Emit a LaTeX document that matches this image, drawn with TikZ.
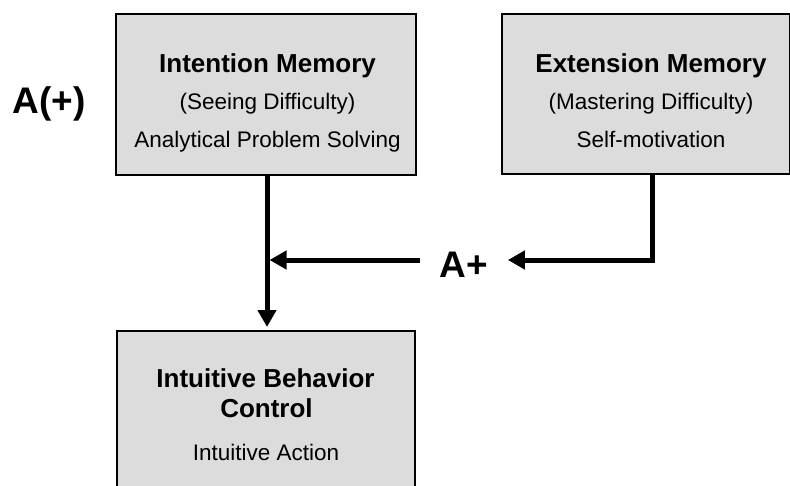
\documentclass[tikz,border=0pt]{standalone}
\usepackage{fontspec}
\setmainfont{Liberation Sans}
\usetikzlibrary{arrows.meta}
\definecolor{boxgray}{HTML}{DCDCDC}
\tikzset{
  box/.style={draw=black, fill=boxgray, line width=1.8pt, anchor=north west, inner sep=0pt},
  ttl/.style={anchor=base, inner sep=0pt, font=\fontsize{26}{30}\selectfont\bfseries},
  sub/.style={anchor=base, inner sep=0pt, font=\fontsize{22.5}{27}\selectfont},
  big/.style={anchor=base, inner ysep=0pt, font=\fontsize{37}{44}\selectfont\bfseries},
  conn/.style={line width=5pt, draw=black},
  tip/.style={-{Triangle[width=18pt,length=17pt]}},
}
\begin{document}
\begin{tikzpicture}[x=1pt,y=-1pt]
\useasboundingbox (0,0) rectangle (790,485);
\clip (0,0) rectangle (790,485);
% boxes
\node[box, minimum width=300pt, minimum height=161pt] (im) at (115,13) {};
\node[box, minimum width=288pt, minimum height=160pt] (ext) at (501,13) {};
\node[box, minimum width=298pt, minimum height=175pt] (ibc) at (116,330) {};
% texts
\node[ttl] (imt) at (267.5,72) {Intention Memory};
\node[sub] (ims) at (267.5,109) {(Seeing Difficulty)};
\node[sub] (ima) at (267.5,147) {Analytical Problem Solving};
\node[ttl] (ext1) at (651,72) {Extension Memory};
\node[sub] (ext2) at (651,109) {(Mastering Difficulty)};
\node[sub] (ext3) at (651,147) {Self-motivation};
\node[ttl] (ibc1) at (265.5,387) {Intuitive Behavior};
\node[ttl] (ibc2) at (266.5,417) {Control};
\node[sub] (ibc3) at (266,460) {Intuitive Action};
\node[big, inner xsep=0pt] (aparen) at (49,113) {A(+)};
\node[big, inner xsep=19.5pt] (ap) at (464,277) {A+};
% connectors
\coordinate (j) at (267,260);
\coordinate (jr) at (269.5,260);
\coordinate (ej) at (652,260);
\draw[conn, tip] (im.south -| j) -- ([yshift=3pt]ibc.north -| j);
\draw[conn, tip] (ap.west |- j) -- (jr);
\draw[conn, tip] (ext.south -| ej) -- (ej) -- (ap.east |- ej);
\end{tikzpicture}
\end{document}
